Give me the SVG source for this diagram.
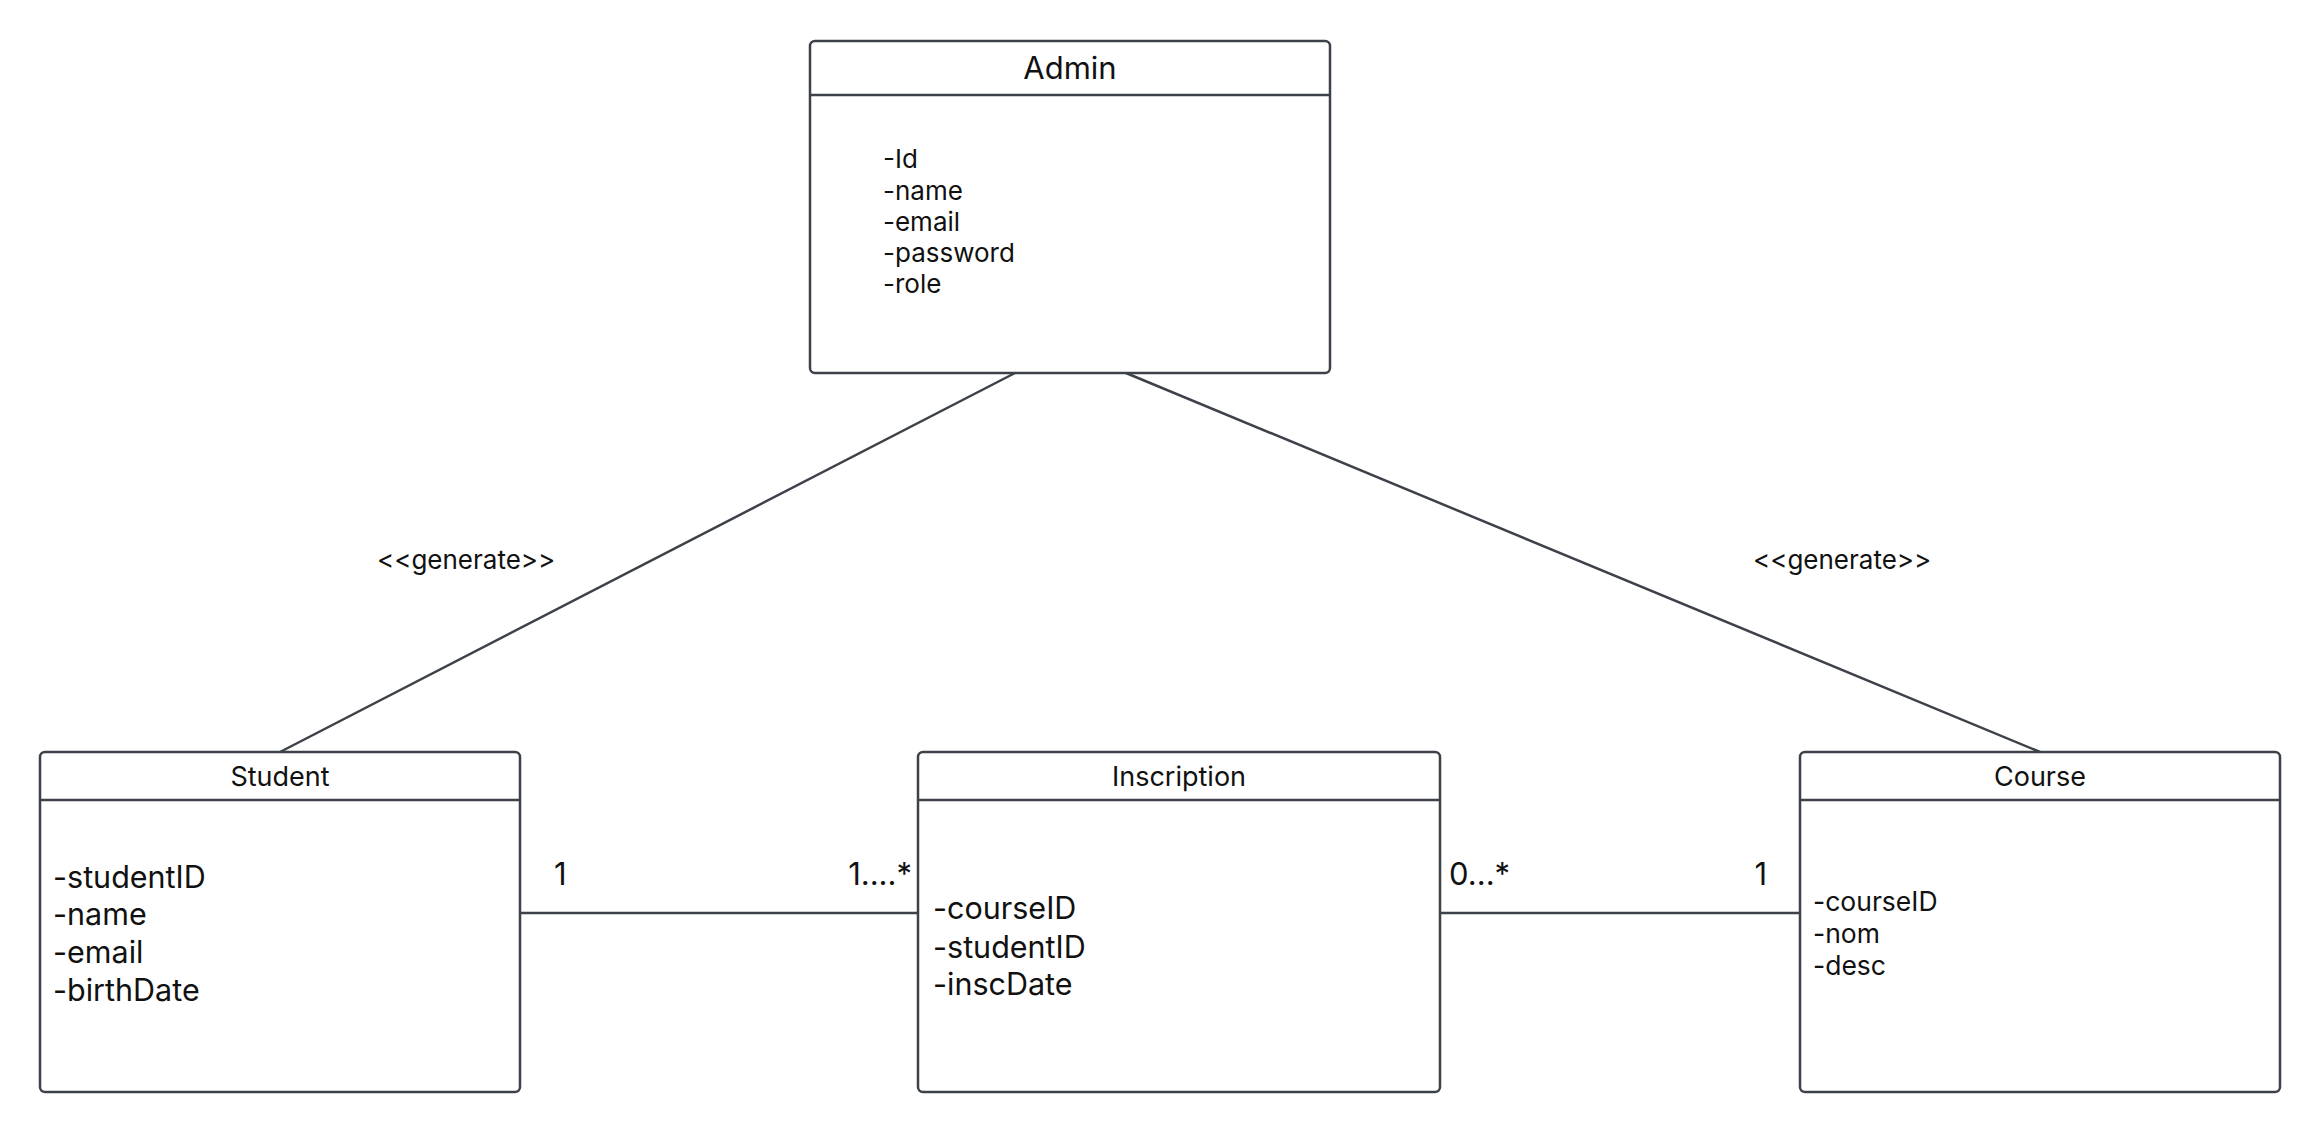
<svg xmlns="http://www.w3.org/2000/svg" width="2320" height="1132" viewBox="0 0 2320 1132">
<style>
.box{fill:#fff;stroke:#3d4149;stroke-width:2.5}
.sep{stroke:#3d4149;stroke-width:2.5}
.con{stroke:#3d4149;stroke-width:2.5;fill:none}
text{font-family:Inter,"Noto Sans","Liberation Sans",sans-serif;fill:#111}
.title{text-anchor:middle}
</style>
<rect width="2320" height="1132" fill="#fff"/>
<g id="connectors">
<line class="con" x1="1015" y1="373" x2="280" y2="752"/>
<line class="con" x1="1126" y1="373" x2="2040" y2="752"/>
<line class="con" x1="520" y1="913" x2="918" y2="913"/>
<line class="con" x1="1440" y1="913" x2="1800" y2="913"/>
<text x="377" y="569" font-size="26">&lt;&lt;generate&gt;&gt;</text>
<text x="1753" y="569" font-size="26">&lt;&lt;generate&gt;&gt;</text>
<text x="554" y="885" font-size="31">1</text>
<text x="912" y="885" font-size="31" text-anchor="end">1....*</text>
<text x="1449" y="885" font-size="31">0...*</text>
<text x="1767" y="885" font-size="31" text-anchor="end">1</text>
</g>
<g id="admin">
<rect class="box" x="810" y="41" width="520" height="332" rx="5"/>
<line class="sep" x1="810" y1="95" x2="1330" y2="95"/>
<text class="title" x="1070" y="79" font-size="31">Admin</text>
<text x="883" y="168" font-size="26">-Id</text>
<text x="883" y="200" font-size="26">-name</text>
<text x="883" y="231" font-size="26">-email</text>
<text x="883" y="262" font-size="26">-password</text>
<text x="883" y="293" font-size="26">-role</text>
</g>
<g id="student">
<rect class="box" x="40" y="752" width="480" height="340" rx="5"/>
<line class="sep" x1="40" y1="800" x2="520" y2="800"/>
<text class="title" x="280" y="786" font-size="27">Student</text>
<text x="53" y="888" font-size="30.5">-studentID</text>
<text x="53" y="925" font-size="30.5">-name</text>
<text x="53" y="963" font-size="30.5">-email</text>
<text x="53" y="1001" font-size="30.5">-birthDate</text>
</g>
<g id="inscription">
<rect class="box" x="918" y="752" width="522" height="340" rx="5"/>
<line class="sep" x1="918" y1="800" x2="1440" y2="800"/>
<text class="title" x="1179" y="786" font-size="27">Inscription</text>
<text x="933" y="919" font-size="30.5">-courseID</text>
<text x="933" y="958" font-size="30.5">-studentID</text>
<text x="933" y="995" font-size="30.5">-inscDate</text>
</g>
<g id="course">
<rect class="box" x="1800" y="752" width="480" height="340" rx="5"/>
<line class="sep" x1="1800" y1="800" x2="2280" y2="800"/>
<text class="title" x="2040" y="786" font-size="27">Course</text>
<text x="1813" y="911" font-size="26.5">-courseID</text>
<text x="1813" y="943" font-size="26.5">-nom</text>
<text x="1813" y="975" font-size="26.5">-desc</text>
</g>
</svg>
